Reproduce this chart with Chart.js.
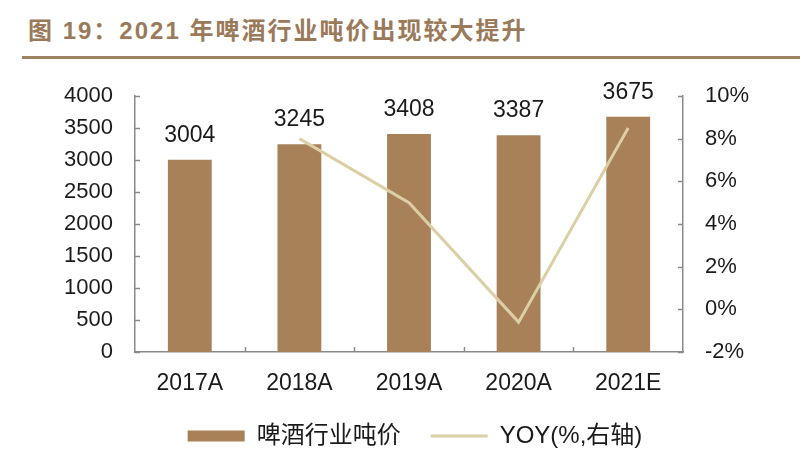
<!DOCTYPE html>
<html>
<head>
<meta charset="utf-8">
<script src="https://cdn.jsdelivr.net/npm/chart.js@4/dist/chart.umd.min.js"></script>
<style>
  html, body { margin: 0; padding: 0; background: #fff; }
  #wrap { position: relative; width: 800px; height: 450px; overflow: hidden; }
  #title { position: absolute; left: 28px; top: 11px; font: bold 24px "Liberation Sans", "Noto Sans CJK SC", sans-serif; color: #9b7a5a; letter-spacing: 2px; white-space: nowrap; }
  #rule { position: absolute; left: 22px; top: 56px; width: 778px; height: 2.5px; background: #9f8262; }
  canvas { position: absolute; left: 0; top: 0; }
</style>
</head>
<body>
<div id="wrap">
  <div id="title">图 19：2021 年啤酒行业吨价出现较大提升</div>
  <div id="rule"></div>
  <canvas id="c" width="800" height="450"></canvas>
</div>
<script>
const categories = ['2017A', '2018A', '2019A', '2020A', '2021E'];
const pricePerTon = [3004, 3245, 3408, 3387, 3675];
const yoyPct = [null, 8.0, 5.0, -0.6, 8.5];
const leftTicks = [0, 500, 1000, 1500, 2000, 2500, 3000, 3500, 4000];
const rightTicks = [-2, 0, 2, 4, 6, 8, 10];

const FONT = "'Liberation Sans', 'Noto Sans CJK SC', sans-serif";
const AXIS_COLOR = '#8a8a8a';

const inwardTicks = {
  id: 'inwardTicks',
  afterDraw(chart) {
    const ctx = chart.ctx;
    const { y, y1, x } = chart.scales;
    const area = chart.chartArea;
    ctx.save();
    ctx.strokeStyle = AXIS_COLOR;
    ctx.lineWidth = 1.5;
    ctx.beginPath();
    y.ticks.forEach(t => {
      const py = Math.round(y.getPixelForValue(t.value)) + 0.5;
      ctx.moveTo(area.left, py); ctx.lineTo(area.left + 5, py);
    });
    y1.ticks.forEach(t => {
      const py = Math.round(y1.getPixelForValue(t.value)) + 0.5;
      ctx.moveTo(area.right, py); ctx.lineTo(area.right - 5, py);
    });
    for (let i = 1; i < categories.length; i++) {
      const px = Math.round(x.getPixelForValue(i - 0.5)) + 0.5;
      ctx.moveTo(px, area.bottom); ctx.lineTo(px, area.bottom - 5);
    }
    ctx.stroke();
    ctx.restore();
  }
};

const barLabels = {
  id: 'barLabels',
  afterDatasetsDraw(chart) {
    const ctx = chart.ctx;
    const meta = chart.getDatasetMeta(0);
    ctx.save();
    ctx.font = '23px ' + FONT;
    ctx.fillStyle = '#1a1a1a';
    ctx.textAlign = 'center';
    ctx.textBaseline = 'alphabetic';
    meta.data.forEach((bar, i) => {
      ctx.fillText(String(pricePerTon[i]), bar.x, bar.y - 18);
    });
    ctx.restore();
  }
};

new Chart(document.getElementById('c'), {
  data: {
    labels: categories,
    datasets: [
      {
        type: 'bar',
        label: '啤酒行业吨价',
        data: pricePerTon,
        backgroundColor: '#a88159',
        borderWidth: 0,
        barPercentage: 0.5,
        categoryPercentage: 0.8,
        yAxisID: 'y',
        order: 1,
        pointStyle: 'rect'
      },
      {
        type: 'line',
        label: 'YOY(%,右轴)',
        data: yoyPct,
        borderColor: '#dccfa6',
        backgroundColor: '#dccfa6',
        borderWidth: 3,
        pointRadius: 0,
        tension: 0,
        yAxisID: 'y1',
        order: 0,
        pointStyle: 'line'
      }
    ]
  },
  options: {
    responsive: false,
    animation: false,
    layout: { padding: { top: 96, left: 30, right: 0, bottom: -8 } },
    plugins: {
      tooltip: { enabled: false },
      title: { display: false },
      legend: {
        display: true,
        position: 'bottom',
        labels: {
          usePointStyle: true,
          pointStyleWidth: 57,
          boxWidth: 57,
          boxHeight: 11,
          padding: 30,
          color: '#1a1a1a',
          font: { size: 24, family: FONT },
          sort: (a, b) => a.datasetIndex - b.datasetIndex
        }
      }
    },
    scales: {
      x: {
        offset: true,
        grid: { display: false, drawTicks: false },
        border: { display: true, color: AXIS_COLOR, width: 1.5 },
        ticks: { color: '#1a1a1a', font: { size: 23, family: FONT }, padding: 18 },
        afterFit: s => { s.height = 42; }
      },
      y: {
        position: 'left',
        min: 0, max: 4000,
        grid: { display: false, drawTicks: false },
        border: { display: true, color: AXIS_COLOR, width: 1.5 },
        afterBuildTicks: s => { s.ticks = leftTicks.map(v => ({ value: v })); },
        ticks: { color: '#1a1a1a', font: { size: 22, family: FONT }, padding: 22, callback: v => String(v) },
        afterFit: s => { s.width = 105; }
      },
      y1: {
        position: 'right',
        min: -2, max: 10,
        grid: { display: false, drawTicks: false },
        border: { display: true, color: AXIS_COLOR, width: 1.5 },
        afterBuildTicks: s => { s.ticks = rightTicks.map(v => ({ value: v })); },
        ticks: { color: '#1a1a1a', font: { size: 22, family: FONT }, padding: 22, callback: v => v + '%' },
        afterFit: s => { s.width = 117; }
      }
    }
  },
  plugins: [inwardTicks, barLabels]
});
</script>
</body>
</html>
